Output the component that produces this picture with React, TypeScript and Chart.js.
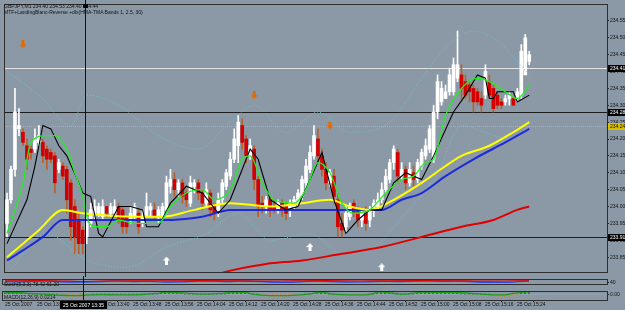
import React, { useEffect, useRef } from 'react';
import { Chart, registerables } from 'chart.js';
Chart.register(...registerables);

const FONT = '"Liberation Sans", Arial, sans-serif';
const BG = '#8b99a6';

// ---------- DATA ----------
const open = [233.95,234.02,234.11,234.23,234.22,234.18,234.17,234.17,234.19,234.19,
234.17,234.16,234.15,234.11,234.12,234.11,234.07,234.00,233.96,233.93,
233.91,233.95,233.98,233.98,233.97,234.00,233.98,233.98,234.00,233.99,
233.97,233.96,233.97,233.98,233.95,233.97,233.99,233.99,233.97,233.97,
233.99,234.06,234.08,234.05,234.07,234.04,234.01,234.06,234.07,234.04,
234.01,234.04,234.00,233.98,234.02,234.06,234.09,234.14,234.18,234.24,
234.20,234.15,234.17,234.08,234.01,234.00,234.02,234.00,233.99,234.01,
234.00,233.99,234.00,234.01,234.03,234.07,234.11,234.15,234.20,234.15,
234.11,234.07,234.09,234.02,233.95,233.94,233.97,234.01,233.99,233.96,
233.98,233.96,233.99,234.00,234.02,234.05,234.08,234.13,234.16,234.09,
234.11,234.07,234.10,234.08,234.12,234.15,234.17,234.14,234.28,234.31,
234.32,234.34,234.34,234.38,234.39,234.37,234.36,234.35,234.34,234.32,
234.33,234.37,234.35,234.33,234.31,234.31,234.32,234.32,234.32,234.33,
234.39,234.43];
const high = [234.04,234.12,234.35,234.29,234.23,234.20,234.18,234.23,234.24,234.20,
234.18,234.17,234.16,234.14,234.13,234.12,234.08,234.02,233.98,233.94,
233.97,234.01,234.02,234.01,234.02,234.00,234.01,234.02,234.01,234.00,
233.97,234.00,234.01,233.99,233.99,234.04,234.01,234.01,234.00,234.01,
234.09,234.11,234.10,234.08,234.08,234.05,234.09,234.08,234.08,234.05,
234.07,234.05,234.01,234.04,234.08,234.11,234.16,234.23,234.27,234.26,
234.21,234.20,234.18,234.09,234.03,234.03,234.03,234.02,234.02,234.02,
234.01,234.02,234.03,234.05,234.09,234.14,234.18,234.24,234.23,234.17,
234.13,234.11,234.11,234.04,233.98,234.00,234.01,234.02,234.00,233.99,
234.00,234.00,234.02,234.04,234.07,234.11,234.14,234.18,234.17,234.13,
234.12,234.13,234.12,234.14,234.17,234.20,234.24,234.30,234.39,234.37,
234.36,234.41,234.44,234.52,234.42,234.39,234.37,234.36,234.35,234.34,
234.42,234.39,234.36,234.34,234.32,234.33,234.34,234.32,234.35,234.48,
234.51,234.46];
const low = [233.91,234.01,234.09,234.21,234.18,234.11,234.14,234.16,234.18,234.13,
234.11,234.13,234.04,234.10,234.08,233.98,233.90,233.86,233.86,233.86,
233.89,233.94,233.96,233.97,233.96,233.97,233.97,233.97,233.95,233.92,
233.92,233.95,233.96,233.92,233.94,233.97,233.97,233.96,233.95,233.96,
233.98,234.04,234.03,234.03,234.01,234.00,234.00,234.04,234.02,233.99,
234.00,233.97,233.96,233.97,234.01,234.05,234.08,234.13,234.13,234.17,
234.13,234.14,234.05,233.97,233.98,233.98,233.97,233.98,233.98,233.97,
233.96,233.97,233.99,234.00,234.02,234.05,234.10,234.14,234.13,234.09,
234.05,234.06,234.01,233.91,233.91,233.92,233.96,233.97,233.94,233.94,
233.93,233.94,233.97,233.99,234.01,234.04,234.07,234.11,234.07,234.08,
234.05,234.06,234.06,234.07,234.11,234.14,234.16,234.13,234.26,234.30,
234.32,234.33,234.33,234.37,234.32,234.32,234.31,234.28,234.30,234.28,
234.32,234.32,234.28,234.29,234.29,234.30,234.30,234.30,234.31,234.32,
234.39,234.42];
const close = [234.02,234.11,234.28,234.24,234.19,234.14,234.16,234.20,234.21,234.15,
234.14,234.14,234.07,234.13,234.09,234.02,233.94,233.91,233.89,233.89,
233.95,233.99,234.00,234.00,234.00,233.98,234.00,234.00,233.96,233.94,
233.94,233.98,234.00,233.94,233.97,234.00,234.00,233.97,233.99,234.00,
234.07,234.08,234.05,234.07,234.03,234.02,234.07,234.07,234.04,234.01,
234.05,233.99,233.98,234.02,234.07,234.10,234.14,234.20,234.25,234.19,
234.15,234.18,234.08,234.00,234.00,234.02,233.99,233.99,234.01,233.99,
233.98,234.01,234.02,234.04,234.08,234.12,234.16,234.21,234.15,234.11,
234.07,234.10,234.03,233.94,233.93,233.98,234.00,233.98,233.96,233.98,
233.95,233.99,234.01,234.02,234.05,234.09,234.13,234.17,234.09,234.11,
234.07,234.11,234.08,234.13,234.16,234.18,234.23,234.28,234.37,234.35,
234.34,234.39,234.42,234.42,234.35,234.33,234.34,234.31,234.31,234.30,
234.40,234.33,234.29,234.30,234.30,234.32,234.33,234.30,234.34,234.46,
234.50,234.45];

// indicator lines: [bar index, price]
const greenMA = [[0,233.92],[4,234.07],[6,234.19],[10,234.21],[12,234.21],[15,234.17],[17,234.10],[19,234.03],[20,233.97],[22,233.94],[25,233.94],[28,233.96],[32,233.95],[35,233.95],[38,233.95],[41,234.00],[45,234.04],[49,234.05],[52,234.02],[56,234.05],[59,234.14],[61,234.15],[64,234.07],[67,234.02],[72,234.01],[75,234.05],[78,234.13],[81,234.10],[84,234.01],[87,233.98],[91,233.99],[95,234.04],[99,234.08],[102,234.09],[105,234.13],[107,234.14],[110,234.27],[114,234.35],[118,234.38],[121,234.37],[125,234.34],[128,234.32],[131,234.36]];
const blackMA = [[0,233.89],[5,234.02],[7,234.12],[9,234.24],[11,234.23],[13,234.18],[15,234.15],[18,234.07],[19,234.04],[21,234.03],[23,233.92],[24,233.91],[28,234.00],[31,234.00],[34,233.99],[35,233.94],[38,233.94],[41,234.01],[45,234.06],[49,234.04],[53,233.98],[56,234.02],[58,234.08],[61,234.17],[63,234.14],[66,234.02],[70,233.99],[73,234.00],[76,234.08],[79,234.16],[82,234.02],[85,233.92],[88,233.96],[91,233.99],[94,233.99],[97,234.07],[100,234.10],[104,234.08],[107,234.15],[112,234.28],[115,234.33],[118,234.39],[120,234.38],[121,234.32],[122,234.32],[123,234.34],[127,234.34],[128,234.31],[131,234.33]];
const yellowMA = [[0,233.85],[8,233.93],[14,233.99],[19,233.98],[32,233.97],[39,233.97],[47,233.99],[56,234.01],[66,234.00],[74,234.01],[81,234.02],[86,234.00],[91,233.99],[97,234.02],[104,234.07],[110,234.12],[114,234.15],[121,234.18],[127,234.22],[131,234.25]];
const blueMA = [[0,233.84],[4,233.87],[9,233.91],[14,233.96],[19,233.96],[39,233.96],[49,233.97],[56,233.99],[66,233.99],[74,233.99],[81,233.99],[88,233.99],[94,233.99],[99,234.02],[104,234.04],[110,234.09],[117,234.14],[125,234.19],[131,234.23]];
const redMA = [[50,233.79],[56,233.81],[65,233.83],[74,233.84],[84,233.86],[94,233.88],[104,233.91],[114,233.94],[122,233.96],[128,233.99],[131,234.00]];
const bandUpper = [[0,234.40],[8,234.33],[16,234.24],[20,234.33],[28,234.30],[38,234.21],[48,234.17],[56,234.25],[62,234.30],[70,234.22],[78,234.28],[86,234.22],[96,234.25],[104,234.38],[110,234.47],[117,234.52],[123,234.49],[128,234.43],[131,234.39]];
const bandLower = [[0,233.80],[10,233.92],[20,233.84],[30,233.82],[40,233.88],[50,233.92],[58,233.98],[66,233.90],[76,233.92],[84,233.86],[92,233.88],[100,233.98],[108,234.10],[114,234.24],[120,234.22],[126,234.20],[131,234.24]];

const sellArrows = [[4,234.48],[62,234.33],[81,234.24]];
const buyArrows = [[40,233.84],[76,233.88],[94,233.82]];

const bidPrice = 234.41;
const supportLevels = [234.28, 233.91];
const pivotLevel = 234.24;

const priceTicks = [233.85,233.90,233.95,234.00,234.05,234.10,234.15,234.20,234.25,234.30,234.35,234.40,234.45,234.50,234.55];
const timeTickBars = [0,8,16,24,32,40,48,56,64,72,80,88,96,104,112,120,128];
const timeTickLabels = ['25 Oct 2007','25 Oct 13:24','25 Oct 13:32','25 Oct 13:40','25 Oct 13:48','25 Oct 13:56','25 Oct 14:04','25 Oct 14:12','25 Oct 14:20','25 Oct 14:28','25 Oct 14:36','25 Oct 14:44','25 Oct 14:52','25 Oct 15:00','25 Oct 15:08','25 Oct 15:16','25 Oct 15:24'];
const cursorBar = 19.5;
const cursorLabel = '25 Oct 2007 13:35';

// sub panel 1 (0..100)
const sub1Red = [[0,80],[8,82],[16,70],[20,62],[24,75],[32,80],[40,78],[48,82],[56,80],[64,72],[72,78],[80,82],[88,75],[96,80],[104,82],[112,80],[120,72],[128,78],[131,80]];
const sub1Blue = [[0,60],[4,55],[8,72],[10,75],[14,55],[18,45],[22,50],[26,72],[28,78],[32,60],[36,65],[40,48],[44,52],[48,70],[52,74],[56,60],[58,72],[62,70],[66,45],[70,40],[74,55],[78,72],[82,58],[86,48],[90,50],[94,65],[98,60],[102,70],[106,75],[110,68],[114,72],[118,45],[122,40],[126,42],[130,70],[131,72]];
const sub1Level = 35;
const sub1Ticks = [40];

// sub panel 2
const sub2Line = [[0,2],[4,2],[6,1],[10,0],[14,-1.5],[18,-2],[21,-1],[24,-0.5],[29,-1],[34,-0.5],[38,1],[40,3],[42,2.5],[46,1],[50,0],[54,1],[57,3],[60,2.5],[62,0],[66,-2],[70,-2],[74,-1],[76,0],[79,3],[82,0],[86,-1],[90,-1],[94,3.5],[96,2],[99,0],[103,2],[105,3],[110,2.5],[114,2],[119,0],[122,-1],[125,-1],[127,1],[131,3.5]];
const sub2Hist = [2,2,2,2,1.5,1, 0,0,0,0,0,0,0,0, -2,-2.5,-3,-3,-3,-3,-2.5,-2,
0,0,0,0,0,0,0,0,0,0,0,0,0,0,0,0,0, 1,2.5,3,2.5,2,1, 0,0,0,0,0,0,0,0,0,0,0,
1.5,3,3,2.5,2.5,1.5, 0,0, -1.5,-2,-2.5,-3,-3,-3,-3,-2.5,-2,-2,-1.5, 0,0,1, 3,3,1.5, 0,0,
-1,-1.5,-1.5,-2,-2,-2,-1.5,-1, 0,0, 2,3,3.5,3,2,1.5, 0,0,0,0,
1.5,2,3,3,3,3,2.5,2.5,2.5,2,2, 0,0,0,0,0,0,0,0, -2,-2.5,-3,-3,-3,-2.5,-2, 2,3,3.5];
const sub2Level = 0;
const sub2Ticks = [0];

const titleLine1 = 'GBPJPY,M1  234.40 234.53 234.40 234.44';
const titleLine2 = 'MTF+LandingBlanc-Reverse +dlx(HMA-TMA Bands 1, 2.5, 30)';
const sub1Title = 'Stoch(5,3,3) 78.42 61.20';
const sub2Title = 'MACD(12,26,9) 0.0214';

// ---------- RENDERING ----------
const X_MIN = -0.5, X_MAX = 150.5;
const AXIS_W = 18;
const pts = (arr: number[][]) => arr.map(([x, y]) => ({ x, y }));

function makeArrow(color: string, up: boolean) {
  const c = document.createElement('canvas');
  c.width = 7; c.height = 8;
  const g = c.getContext('2d')!;
  g.fillStyle = color;
  if (up) {
    g.beginPath(); g.moveTo(3.5, 0); g.lineTo(7, 4); g.lineTo(0, 4); g.closePath(); g.fill();
    g.fillRect(2, 4, 3, 4);
  } else {
    g.fillRect(2, 0, 3, 4);
    g.beginPath(); g.moveTo(0, 4); g.lineTo(7, 4); g.lineTo(3.5, 8); g.closePath(); g.fill();
  }
  return c;
}

const yAxis = (min: number, max: number, ticks: number[], fmt: (v: number) => string) => ({
  type: 'linear', position: 'right', min, max,
  afterFit: (s: any) => { s.width = AXIS_W; },
  afterBuildTicks: (s: any) => { s.ticks = ticks.map(v => ({ value: v })); },
  grid: { drawOnChartArea: false, drawTicks: true, tickLength: 2, color: '#222' },
  border: { display: true, color: '#222' },
  ticks: { font: { size: 5, family: FONT }, color: '#111', padding: 1, callback: (v: number) => fmt(v) },
});

const xHidden = { type: 'linear', min: X_MIN, max: X_MAX, display: false, offset: false };

const frame = {
  id: 'frame',
  afterDraw(chart: any) {
    const { ctx, chartArea: a } = chart;
    ctx.save();
    ctx.strokeStyle = '#2e2e2e'; ctx.lineWidth = 1;
    ctx.strokeRect(Math.round(a.left) - 0.5, Math.round(a.top) - 0.5, Math.round(a.right - a.left) + 1, Math.round(a.bottom - a.top) + 1);
    ctx.restore();
  },
};

const cursor = (top: boolean, label: boolean) => ({
  id: 'cursor',
  afterDraw(chart: any) {
    const { ctx, chartArea: a, scales: { x } } = chart;
    const px = Math.round(x.getPixelForValue(cursorBar)) + 0.5;
    ctx.save();
    ctx.strokeStyle = '#111'; ctx.lineWidth = 1;
    ctx.beginPath(); ctx.moveTo(px, 0); ctx.lineTo(px, label ? a.bottom : chart.height); ctx.stroke();
    if (top) { ctx.fillStyle = '#000'; ctx.fillRect(px - 2.5, a.top - 1, 5, 4); }
    if (label) {
      ctx.font = `5px ${FONT}`;
      const w = ctx.measureText(cursorLabel).width + 6;
      ctx.fillStyle = '#000';
      ctx.fillRect(px - w / 2, a.bottom + 1, w, 8);
      ctx.fillStyle = '#fff'; ctx.textBaseline = 'middle'; ctx.textAlign = 'center';
      ctx.fillText(cursorLabel, px, a.bottom + 5.5);
    }
    ctx.restore();
  },
});

const levels = {
  id: 'levels',
  beforeDatasetsDraw(chart: any) {
    const { ctx, chartArea: a, scales: { y } } = chart;
    const line = (v: number, color: string, dash: number[]) => {
      const py = Math.round(y.getPixelForValue(v)) + 0.5;
      ctx.save(); ctx.strokeStyle = color; ctx.lineWidth = 1; ctx.setLineDash(dash);
      ctx.beginPath(); ctx.moveTo(a.left, py); ctx.lineTo(a.right, py); ctx.stroke(); ctx.restore();
    };
    line(pivotLevel, '#d6bc00', [1, 1]);
    supportLevels.forEach(v => line(v, '#1c1c1c', []));
    line(bidPrice, '#e4e4e4', []);
  },
  afterDraw(chart: any) {
    const { ctx, chartArea: a, scales: { y } } = chart;
    const box = (v: number, bg: string, fg: string) => {
      const py = Math.round(y.getPixelForValue(v));
      ctx.save(); ctx.fillStyle = bg; ctx.fillRect(a.right + 1, py - 3, AXIS_W, 7);
      ctx.fillStyle = fg; ctx.font = `5px ${FONT}`; ctx.textBaseline = 'middle';
      ctx.fillText(v.toFixed(2), a.right + 3, py + 0.5); ctx.restore();
    };
    box(bidPrice, '#000', '#fff');
    supportLevels.forEach(v => box(v, '#000', '#fff'));
    box(pivotLevel, '#d8c000', '#111');
  },
};

const hLevel = (value: number, color: string) => ({
  id: 'hlevel',
  beforeDatasetsDraw(chart: any) {
    const { ctx, chartArea: a, scales: { y } } = chart;
    const py = Math.round(y.getPixelForValue(value)) + 0.5;
    ctx.save(); ctx.strokeStyle = color; ctx.setLineDash([1, 1]); ctx.lineWidth = 1;
    ctx.beginPath(); ctx.moveTo(a.left, py); ctx.lineTo(a.right, py); ctx.stroke(); ctx.restore();
  },
});

const baseOpts = (padding: any, scales: any) => ({
  responsive: false, maintainAspectRatio: false, animation: false, events: [],
  layout: { padding },
  plugins: { legend: { display: false }, tooltip: { enabled: false }, title: { display: false } },
  scales,
});

const lineDs = (data: number[][], color: string, width: number, extra: any = {}) => ({
  type: 'line', data: pts(data), borderColor: color, borderWidth: width, pointRadius: 0,
  cubicInterpolationMode: 'monotone', fill: false, ...extra,
});

export default function App() {
  const mainRef = useRef<HTMLCanvasElement>(null);
  const sub1Ref = useRef<HTMLCanvasElement>(null);
  const sub2Ref = useRef<HTMLCanvasElement>(null);

  useEffect(() => {
    Chart.defaults.font.family = FONT;
    const charts: Chart[] = [];
    const up = close.map((c, i) => c >= open[i]);
    const sellImg = makeArrow('#e46a00', false);
    const buyImg = makeArrow('#ffffff', true);

    charts.push(new Chart(mainRef.current!, {
      type: 'bar',
      data: {
        datasets: [
          { type: 'line', data: pts(sellArrows), showLine: false, pointStyle: sellImg, pointRadius: 4 },
          { type: 'line', data: pts(buyArrows), showLine: false, pointStyle: buyImg, pointRadius: 4 },
          lineDs(greenMA, '#22ee22', 1.3),
          lineDs(blackMA, '#000000', 1.1, { cubicInterpolationMode: 'default', tension: 0 }),
          lineDs(yellowMA, '#ffff00', 2),
          lineDs(blueMA, '#1e2ad8', 2),
          lineDs(redMA, '#e00000', 2),
          lineDs(bandUpper, '#6ec4cc', 1, { borderDash: [1, 2] }),
          lineDs(bandLower, '#6ec4cc', 1, { borderDash: [1, 2] }),
          {
            type: 'bar', grouped: false, barThickness: 3, minBarLength: 1,
            data: open.map((o, i) => ({ x: i, y: [o, close[i]] })),
            backgroundColor: up.map(u => (u ? '#ffffff' : '#d40000')),
          },
          {
            type: 'bar', grouped: false, barThickness: 1,
            data: open.map((_, i) => ({ x: i, y: [low[i], high[i]] })),
            backgroundColor: up.map(u => (u ? '#ffffff' : '#b8602a')),
          },
        ],
      } as any,
      options: baseOpts({ left: 3, top: 3, right: 0, bottom: 2 }, {
        x: xHidden,
        y: yAxis(233.806, 234.597, priceTicks, v => v.toFixed(2)),
      }) as any,
      plugins: [levels, frame, cursor(true, false)],
    }));

    charts.push(new Chart(sub1Ref.current!, {
      type: 'line',
      data: {
        datasets: [
          lineDs(sub1Red, '#e00000', 1.2),
          lineDs(sub1Blue, '#3048e0', 1.2),
        ],
      } as any,
      options: baseOpts({ left: 3, top: 1, right: 0, bottom: 1 }, {
        x: xHidden,
        y: yAxis(0, 100, sub1Ticks, v => String(v)),
      }) as any,
      plugins: [hLevel(sub1Level, '#e09020'), frame, cursor(false, false)],
    }));

    charts.push(new Chart(sub2Ref.current!, {
      type: 'bar',
      data: {
        datasets: [
          lineDs(sub2Line, '#1c9a1c', 1.3),
          {
            type: 'bar', grouped: false, barThickness: 1,
            data: sub2Hist.map((v, i) => ({ x: i, y: v })),
            backgroundColor: sub2Hist.map(v => (v >= 0 ? '#1f7f1f' : '#d88a20')),
          },
        ],
      } as any,
      options: baseOpts({ left: 3, top: 1, right: 0, bottom: 0 }, {
        x: {
          type: 'linear', min: X_MIN, max: X_MAX, offset: false,
          afterFit: (s: any) => { s.height = 10; },
          afterBuildTicks: (s: any) => { s.ticks = timeTickBars.map(v => ({ value: v })); },
          grid: { drawOnChartArea: false, drawTicks: true, tickLength: 2, color: '#222' },
          border: { display: true, color: '#222' },
          ticks: {
            autoSkip: false, maxRotation: 0, minRotation: 0, align: 'start', padding: 0,
            font: { size: 5, family: FONT }, color: '#111',
            callback: (v: number) => timeTickLabels[timeTickBars.indexOf(v)] ?? '',
          },
        },
        y: yAxis(-8, 3, sub2Ticks, v => v.toFixed(2)),
      }) as any,
      plugins: [hLevel(sub2Level, '#e0a020'), frame, cursor(false, true)],
    }));

    return () => charts.forEach(c => c.destroy());
  }, []);

  const txt = (top: number): React.CSSProperties => ({
    position: 'absolute', left: 4, top, fontSize: 5, lineHeight: '6px', color: '#111',
    fontFamily: FONT, whiteSpace: 'nowrap', pointerEvents: 'none',
  });

  return (
    <div style={{ position: 'absolute', left: 0, top: 0, width: 625, height: 310, background: BG, overflow: 'hidden' }}>
      <canvas ref={mainRef} width={625} height={277} style={{ position: 'absolute', left: 0, top: 0 }} />
      <canvas ref={sub1Ref} width={625} height={12} style={{ position: 'absolute', left: 0, top: 276 }} />
      <canvas ref={sub2Ref} width={625} height={22} style={{ position: 'absolute', left: 0, top: 288 }} />
      <div style={txt(3)}>{titleLine1}</div>
      <div style={txt(9)}>{titleLine2}</div>
      <div style={txt(281)}>{sub1Title}</div>
      <div style={txt(294)}>{sub2Title}</div>
    </div>
  );
}
